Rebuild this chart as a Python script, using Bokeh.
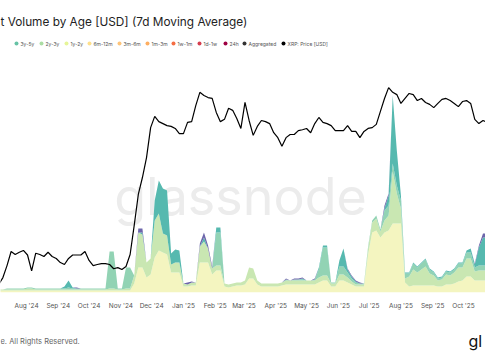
from datetime import datetime, timedelta
import pandas as pd
from bokeh.plotting import figure
from bokeh.layouts import column
from bokeh.models import ColumnDataSource, Range1d, LogScale, Label, MonthsTicker, DatetimeTickFormatter
from bokeh.embed import file_html
from bokeh.resources import INLINE

# ---------------- data (4-day samples) ----------------
START_DATE = "2024-07-05"
STEP = "4D"

xrp_price = [
    0.421, 0.453, 0.515, 0.599, 0.580, 0.594, 0.606, 0.577, 0.487, 0.588,
    0.580, 0.568, 0.594, 0.568, 0.556, 0.532, 0.521, 0.556, 0.577, 0.577,
    0.577, 0.599, 0.544, 0.515, 0.521, 0.526, 0.526, 0.521, 0.498, 0.504,
    0.494, 0.510, 0.580, 0.792, 1.104, 1.324, 1.64, 2.26, 2.55, 2.41,
    2.36, 2.31, 2.29, 2.24, 2.12, 2.12, 2.39, 2.41, 2.86, 3.30,
    3.19, 3.12, 3.09, 2.66, 2.41, 2.47, 2.78, 2.72, 2.49, 2.24,
    2.96, 2.44, 2.08, 2.29, 2.44, 2.41, 2.36, 2.14, 2.03, 1.85,
    2.03, 2.10, 2.10, 2.19, 2.21, 2.24, 2.14, 2.36, 2.52, 2.39,
    2.36, 2.31, 2.19, 2.19, 2.19, 2.31, 2.17, 2.17, 2.03, 2.17,
    2.24, 2.26, 2.34, 2.69, 3.09, 3.47, 3.30, 3.22, 2.93, 3.09,
    3.26, 3.22, 3.02, 3.09, 2.96, 2.90, 2.80, 2.93, 3.06, 3.09,
    3.02, 2.93, 2.83, 2.99, 3.02, 2.93, 2.47, 2.36, 2.44, 2.39,
]

# spent volume per age band, USD millions (7d MA)
vol_1y_2y = [
    20, 20, 20, 20, 20, 20, 20, 20, 20, 20,
    20, 20, 20, 20, 20, 20, 20, 20, 20, 20,
    20, 20, 20, 20, 20, 20, 20, 20, 20, 20,
    20, 20, 20, 90, 250, 250, 150, 180, 350, 420,
    400, 380, 200, 200, 200, 60, 60, 70, 70, 300,
    300, 300, 180, 220, 220, 60, 50, 60, 70, 70,
    80, 140, 140, 80, 60, 60, 60, 60, 60, 70,
    80, 80, 80, 80, 80, 80, 80, 80, 100, 120,
    120, 60, 60, 120, 120, 100, 80, 60, 60, 60,
    380, 600, 620, 550, 600, 620, 690, 690, 690, 100,
    60, 70, 70, 70, 70, 70, 70, 60, 60, 80,
    80, 90, 110, 120, 160, 160, 120, 120, 120, 120,
]
vol_2y_3y = [
    10, 10, 10, 10, 10, 10, 10, 20, 20, 10,
    10, 10, 10, 10, 10, 10, 10, 10, 10, 10,
    10, 10, 10, 10, 10, 10, 10, 20, 20, 10,
    10, 20, 20, 80, 350, 330, 150, 160, 370, 370,
    190, 190, 80, 100, 100, 30, 20, 30, 30, 160,
    210, 140, 60, 50, 50, 30, 30, 30, 30, 30,
    40, 110, 100, 40, 30, 30, 30, 30, 30, 30,
    40, 40, 40, 40, 40, 40, 40, 40, 50, 50,
    50, 30, 30, 60, 60, 50, 30, 20, 20, 20,
    60, 100, 120, 60, 120, 150, 520, 300, 150, 40,
    100, 160, 130, 160, 190, 120, 100, 60, 70, 100,
    90, 110, 140, 130, 180, 180, 90, 100, 100, 100,
]
vol_3y_5y = [
    0, 0, 10, 10, 10, 10, 10, 10, 10, 10,
    10, 10, 10, 10, 10, 10, 10, 20, 10, 10,
    10, 10, 10, 10, 10, 10, 10, 370, 370, 10,
    10, 210, 210, 0, 0, 0, 0, 0, 0, 0,
    0, 0, 0, 0, 0, 0, 0, 0, 0, 0,
    0, 0, 0, 330, 330, 0, 0, 0, 0, 0,
    0, 0, 0, 0, 0, 0, 0, 0, 0, 0,
    10, 0, 10, 10, 10, 0, 0, 10, 80, 280,
    280, 10, 10, 80, 80, 50, 30, 20, 10, 10,
    20, 20, 30, 20, 100, 100, 80, 80, 80, 50,
    30, 60, 50, 60, 70, 40, 30, 20, 20, 30,
    30, 30, 40, 40, 60, 60, 40, 50, 50, 50,
]
vol_5y_7y = [
    0, 0, 0, 0, 0, 0, 0, 0, 0, 0,
    0, 0, 0, 0, 0, 0, 20, 70, 10, 0,
    0, 0, 0, 0, 0, 0, 0, 0, 0, 0,
    0, 0, 0, 0, 0, 20, 0, 0, 200, 330,
    450, 450, 110, 130, 120, 0, 0, 0, 0, 0,
    40, 0, 0, 50, 50, 0, 0, 0, 0, 0,
    0, 0, 0, 0, 0, 0, 0, 0, 0, 0,
    0, 0, 0, 0, 10, 0, 0, 0, 20, 20,
    20, 0, 0, 60, 180, 30, 20, 10, 0, 0,
    0, 0, 0, 0, 20, 100, 680, 350, 50, 10,
    10, 10, 10, 10, 10, 10, 10, 10, 10, 10,
    10, 10, 10, 10, 20, 40, 30, 180, 280, 280,
]
vol_7y_10y = [
    0, 0, 0, 0, 0, 0, 0, 0, 0, 0,
    0, 0, 0, 0, 0, 0, 0, 0, 0, 10,
    0, 0, 0, 0, 0, 0, 0, 0, 0, 0,
    0, 0, 0, 0, 40, 40, 0, 0, 0, 0,
    0, 0, 0, 0, 0, 0, 20, 10, 0, 30,
    50, 30, 20, 0, 0, 0, 0, 0, 0, 0,
    0, 0, 0, 0, 0, 0, 0, 0, 0, 0,
    10, 0, 10, 10, 10, 0, 0, 10, 0, 0,
    0, 0, 0, 0, 0, 10, 10, 10, 10, 0,
    0, 0, 0, 0, 30, 20, 0, 0, 0, 0,
    0, 0, 0, 0, 0, 0, 0, 0, 0, 0,
    0, 0, 0, 0, 0, 0, 10, 20, 40, 40,
]

band_colors = ["#f4f5c0", "#c9e7b2", "#92d3b4", "#56b9af", "#6d66ab"]

legend_labels = ["3y-5y", "2y-3y", "1y-2y", "6m-12m", "3m-6m", "1m-3m",
                 "1w-1m", "1d-1w", "24h", "Aggregated", "XRP: Price [USD]"]
legend_colors = ["#66c2a5", "#abdda4", "#e6f598", "#fee08b", "#fdc47a", "#fdae61",
                 "#f46d43", "#d53e4f", "#9e0142", "#333333", "#000000"]

# ---------------- layout constants ----------------
W = 485
FRAME_BOTTOM = 292          # page y of the volume baseline
MAIN_H = 312
FOOT_H = 360 - MAIN_H
PX_PER_DAY = 437.0 / 426.0  # Aug 1 '24 at x=26, Oct 1 '25 at x=463
X0 = datetime(2024, 8, 1) - timedelta(days=26 / PX_PER_DAY)
X1 = X0 + timedelta(days=W / PX_PER_DAY)
EPOCH = datetime(1970, 1, 1)
FONT = "Inter"


def xs(page_x):
    dt = X0 + timedelta(days=page_x / PX_PER_DAY)
    return (dt - EPOCH).total_seconds() * 1000.0


def ys(page_y):
    return (FRAME_BOTTOM - page_y) * 10.0


dates = pd.date_range(START_DATE, periods=len(xrp_price), freq=STEP)
src = ColumnDataSource(dict(
    date=dates, price=xrp_price,
    b1=vol_1y_2y, b2=vol_2y_3y, b3=vol_3y_5y, b4=vol_5y_7y, b5=vol_7y_10y,
))

p = figure(width=W, height=MAIN_H, x_axis_type="datetime", y_axis_location=None,
           x_range=Range1d(X0, X1), y_range=Range1d(0, FRAME_BOTTOM * 10),
           output_backend="svg", toolbar_location=None,
           min_border_left=0, min_border_right=0, min_border_top=0,
           min_border_bottom=MAIN_H - FRAME_BOTTOM)
p.extra_y_ranges = {"price": Range1d(0.386, 8.83)}
p.extra_y_scales = {"price": LogScale()}

p.outline_line_color = None
p.background_fill_color = "white"
p.border_fill_color = "white"
p.xgrid.visible = False
p.ygrid.visible = False

ax = p.xaxis[0]
ax.ticker = MonthsTicker(months=list(range(1, 13)))
ax.formatter = DatetimeTickFormatter(days="%b '%y", months="%b '%y", years="%b '%y")
ax.axis_line_color = None
ax.major_tick_line_color = None
ax.minor_tick_line_color = None
ax.major_tick_out = 0
ax.major_tick_in = 0
ax.major_label_standoff = 9
ax.major_label_text_font = FONT
ax.major_label_text_font_size = "6.5px"
ax.major_label_text_color = "#555555"

# watermark
p.add_layout(Label(x=xs(240), y=ys(196), text="glassnode", text_align="center",
                   text_baseline="alphabetic", text_font=FONT, text_font_size="52px",
                   text_color="#ececec", level="underlay"))

p.varea_stack(stackers=["b1", "b2", "b3", "b4", "b5"], x="date", color=band_colors,
              source=src)
p.line("date", "price", source=src, y_range_name="price", color="black", line_width=1.2)

# title (cut at the left edge as in the reference)
p.add_layout(Label(x=xs(0), y=ys(21), text="t Volume by Age [USD] (7d Moving Average)",
                   text_align="left", text_baseline="middle", text_font=FONT,
                   text_font_size="11.8px", text_color="#222222"))

# legend row
LEG_X = [16, 41, 66, 89, 119, 147, 173, 199, 225, 244, 283]
p.scatter([xs(v) for v in LEG_X], [ys(43)] * len(LEG_X), size=4, color=legend_colors,
          line_color=None)
for lab, lx in zip(legend_labels, LEG_X):
    p.add_layout(Label(x=xs(lx + 4), y=ys(43), text=lab, text_align="left",
                       text_baseline="middle", text_font=FONT, text_font_size="5px",
                       text_color="#555555"))

# footer strip
foot = figure(width=W, height=FOOT_H, x_range=Range1d(0, W), y_range=Range1d(360, MAIN_H),
              output_backend="svg", toolbar_location=None,
              x_axis_location=None, y_axis_location=None,
              min_border_left=0, min_border_right=0, min_border_top=0, min_border_bottom=0)
foot.outline_line_color = None
foot.xgrid.visible = False
foot.ygrid.visible = False
foot.add_layout(Label(x=0, y=341, text="e. All Rights Reserved.", text_align="left",
                      text_baseline="middle", text_font=FONT, text_font_size="7.5px",
                      text_color="#666666"))
foot.add_layout(Label(x=468, y=340, text="gl", text_align="left",
                      text_baseline="middle", text_font=FONT, text_font_size="16px",
                      text_color="#111111"))

layout = column(p, foot, spacing=0)
open("out.html", "w").write(file_html(layout, INLINE))
